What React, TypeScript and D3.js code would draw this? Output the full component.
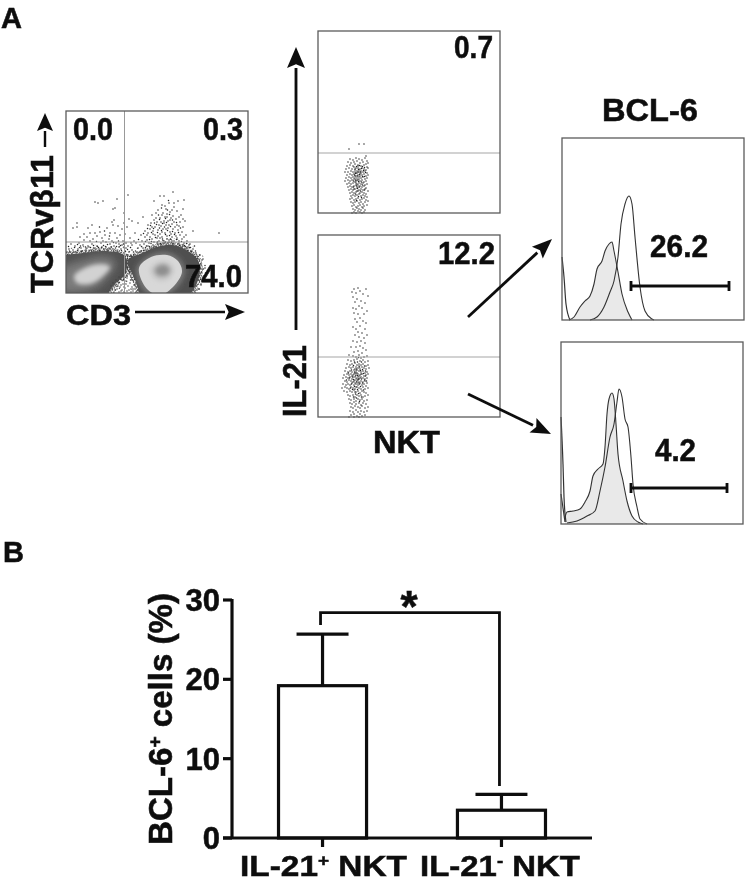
import React from "react";
import * as d3 from "d3";

type P = [number, number];

const barCategories = ["IL-21+ NKT", "IL-21- NKT"];
const barValues = [19.2, 3.5];
const barErrorTops = [25.7, 5.5];
const yTicks = [0, 10, 20, 30];

// flow panel 1: density contours, channel units
const darkLeft: P[] = [[-8,37],[0,38],[17,40],[37,42],[56,39],[61,33],[59,19],[50,10],[44,3],[38,-8],[-8,-8]];
const darkRight: P[] = [[62,33],[74,39],[91,46],[107,48],[122,42],[132,33],[133,16],[124,-2],[118,-8],[80,-8],[69,13]];
const midLeft: P[] = [[-4,24],[18,33],[37,37],[50,31],[42,16],[28,4],[-4,2]];
const lightLeft: P[] = [[8,17],[21,26],[36,29],[44,26],[35,15],[24,9],[11,10]];
const midRight: P[] = [[70,24],[84,38],[101,41],[114,34],[119,20],[110,4],[94,-4],[79,1]];
const lightRight: P[] = [[73,25],[85,36],[101,38],[112,32],[116,21],[107,6],[94,-2],[81,4]];
const coreRight: P[] = [[89,24],[94,28],[100,28],[104,23],[101,18],[94,17],[90,19]];
const ringRight: P[] = [[84,24],[92,31],[102,31],[108,24],[103,14],[93,12],[86,17]];

// irregular stipple tile for the fuzzy rim of the dense populations
const stippleTile: P[] = [[1.5,2],[5,1],[9,3.5],[13,1.5],[17,2.5],[20.5,1],[3,6],[7,7.5],[11,6],[15,5],[19,6.5],[1,10],[5.5,11],[9.5,9.5],[13.5,10.5],[17.5,9.5],[21,11],[3.5,14],[7.5,15],[11.5,13.5],[15.5,14.5],[19.5,14],[1.5,18],[5,19],[9,17.5],[13,18.5],[17,18],[21,19]];

const sparseLeft: P[] = [[29,91],[32,90],[37,92],[51,94],[47,84],[49,85],[58,80],[62,98],[48,73],[46,71],[47,68],[11,70],[7,65],[11,66],[26,68],[22,65],[24,60],[29,60],[14,56],[34,61],[41,65],[44,60],[49,60],[56,64],[54,58],[18,53],[21,56],[27,54],[31,57],[36,55],[39,58],[43,54],[46,52],[51,55],[57,52],[59,59],[61,66],[63,74],[64,55],[66,48],[62,47],[58,46],[53,49],[48,47],[44,49],[40,46],[35,50],[31,47],[26,49],[22,47],[17,48],[13,50],[9,47],[5,49],[3,44],[7,43],[12,44],[16,42],[20,44],[25,43],[29,45],[33,43],[38,44],[42,43],[47,44],[51,42],[55,44],[59,42],[63,41],[66,43],[68,38],[65,37],[62,38],[1,41],[4,41],[10,41],[23,42],[28,42],[36,46],[50,50],[56,48],[60,50],[37,52],[24,52],[15,45],[69,60],[72,70],[68,52],[44,44],[53,46],[19,40],[2,38],[6,39],[41,41],[34,41],[60,45],[65,50],[18,59],[40,51],[8.5,45.5],[14.5,47],[19.5,46],[24.5,45.5],[27.5,47.5],[32.5,45.5],[37.5,47.5],[41.5,48.5],[45.5,46],[50.5,46.5],[54.5,47.5],[57.5,49],[61.5,43.5],[64.5,45.5],[67.5,41],[2.5,46.5],[11.5,48.5],[30.5,51.5],[47.5,50.5],[52.5,52],[43.5,57],[38.5,62],[33.5,66],[52,67],[58,70]];
const bottomGap: P[] = [[44,2],[46,5],[48,1],[49,8],[51,4],[52,11],[53,1],[54,6],[55,14],[56,3],[57,9],[58,1],[59,5],[60,12],[61,2],[62,7],[63,3],[64,10],[65,1],[66,6],[67,2],[68,8],[69,4],[70,1],[71,6],[72,3],[47,10],[50,13],[53,16],[57,17],[61,15],[66,13],[63,19],[59,22],[62,26],[60,30],[64,34],[58,6],[55,2],[52,7],[49,3],[60,9],[65,4],[73,1],[45,7]];
const sparseRight: P[] = [[107,101],[94,97],[98,97],[88,92],[96,88],[103,90],[112,92],[117,84],[108,86],[100,84],[92,83],[86,78],[90,80],[97,80],[104,81],[111,82],[115,78],[119,72],[107,77],[101,76],[94,75],[88,73],[82,68],[85,70],[91,71],[98,72],[104,73],[110,74],[114,71],[117,66],[111,68],[106,69],[100,68],[95,67],[89,66],[84,64],[79,62],[82,60],[87,62],[92,63],[97,64],[102,65],[107,64],[112,63],[116,61],[120,58],[114,58],[109,60],[104,61],[99,60],[94,59],[89,58],[84,56],[79,56],[75,58],[76,52],[81,53],[86,54],[91,55],[96,56],[101,57],[106,56],[111,55],[116,54],[121,52],[124,49],[118,50],[113,52],[108,52],[103,53],[98,52],[93,52],[88,51],[83,50],[78,49],[74,48],[70,50],[72,45],[77,45],[82,47],[87,48],[92,49],[97,50],[102,50],[107,49],[112,49],[117,47],[122,46],[127,44],[130,40],[125,42],[120,44],[115,46],[110,47],[105,47],[100,48],[95,47],[90,46],[85,45],[80,43],[75,42],[71,41],[134,38],[136,33],[133,28],[136,24],[134,20],[138,17],[132,13],[135,9],[130,7],[133,4],[128,3],[125,10],[126,14],[129,18],[131,24],[127,5],[123,2],[136,12],[139,25],[141,20],[146,8],[143,12],[98,70],[102,72],[105,75],[99,76],[95,71],[93,68],[103,68],[108,71],[100,64],[96,61],[105,59],[110,57],[92,57],[87,59],[101,54],[106,52],[94,55],[109,66],[113,67],[90,75],[96,78],[101,79],[106,83],[99,87],[108,90],[117,74],[113,76],[86,66],[81,58],[118,56],[123,48],[153,60],[127,62],[118,93],[77,76],[66,72]];
const denseRight: P[] = [[93.5,73.5],[99.5,74.5],[103.5,78.5],[106.5,73],[100.5,70.5],[96.5,69.5],[104.5,66.5],[98.5,66],[93.5,65],[90.5,68.5],[87.5,64.5],[101.5,62.5],[106.5,61.5],[95.5,62.5],[91.5,60.5],[85.5,60.5],[99.5,58.5],[103.5,57.5],[108.5,58.5],[112.5,60.5],[96.5,54],[89.5,55.5],[83.5,53.5],[104.5,54],[110.5,53.5],[115.5,51.5],[79.5,51.5],[85.5,51.5],[91.5,51],[99.5,51],[105.5,50.5],[120.5,49.5],[75.5,46.5],[80.5,47],[94.5,49.5],[113.5,47.5],[118.5,47.5],[124.5,45.5],[101.5,83],[95.5,85],[110.5,70.5],[88.5,70],[84.5,67.5],[102.5,92.5],[92.5,78],[114.5,65],[81.5,64.5],[77.5,59.5],[72.5,53.5],[128.5,47]];

// flow panels 2 and 3
const nktTopDots: P[] = [[31,64],[41,69],[46,69],[48,57],[32,54],[35,53],[38,55],[41,54],[44,53],[47,55],[49,52],[30,51],[33,50],[36,51],[39,52],[42,50],[45,51],[48,49],[50,50],[29,47],[32,48],[35,47],[37,49],[40,48],[43,47],[46,48],[49,46],[28,44],[31,45],[34,44],[36,46],[38,45],[40,45],[42,44],[44,45],[46,44],[48,43],[50,45],[27,41],[30,41],[33,42],[35,41],[37,43],[39,42],[41,41],[43,42],[45,41],[47,42],[49,40],[29,38],[32,39],[34,38],[36,39],[38,40],[40,38],[42,39],[44,38],[46,39],[48,37],[50,38],[28,35],[31,36],[33,35],[35,36],[37,37],[39,35],[41,36],[43,35],[45,36],[47,34],[49,35],[27,32],[30,33],[32,32],[34,33],[36,34],[38,32],[40,33],[42,32],[44,33],[46,31],[48,32],[29,29],[31,30],[33,29],[35,30],[37,31],[39,29],[41,30],[43,29],[45,30],[47,28],[49,29],[30,26],[32,27],[34,26],[36,27],[38,28],[40,26],[42,27],[44,26],[46,27],[48,25],[31,23],[33,24],[35,23],[37,24],[39,25],[41,23],[43,24],[45,23],[47,24],[50,22],[32,20],[34,21],[36,20],[38,21],[40,22],[42,20],[44,21],[46,20],[48,19],[33,17],[35,18],[37,17],[39,18],[41,19],[43,17],[45,18],[47,17],[49,16],[32,14],[34,15],[36,13],[38,14],[40,15],[42,13],[44,14],[46,15],[48,13],[33,11],[35,10],[37,11],[39,12],[41,10],[43,11],[45,9],[47,11],[50,12],[34,7],[36,8],[38,6],[40,7],[42,8],[44,6],[46,7],[49,8],[35,4],[37,3],[39,5],[41,4],[43,3],[45,5],[47,3],[36,1],[38,0],[40,2],[42,1],[44,0],[46,1],[34,0],[37,41],[39,40],[41,43],[38,37],[40,41],[42,37],[37,35],[39,33],[41,34],[38,30],[40,28],[36,24],[39,22],[37,44],[40,47],[43,40]];
const nktTopCore: P[] = [[38.5,46.5],[41.5,47.5],[44.5,46.5],[46.5,45.5],[43.5,44.5],[40.5,43.5],[37.5,39.5],[42.5,41],[45.5,42.5],[47.5,40.5],[41.5,38.5],[44.5,36.5],[39.5,37],[37.5,33],[40.5,31.5],[43.5,31],[46.5,36.5],[38.5,27],[41.5,26],[35.5,32],[44.5,28],[36.5,38],[39.5,24.5],[42.5,22],[37.5,19],[40.5,16.5],[38.5,12.5],[43.5,15.5],[35.5,26],[46.5,23]];
const nktBottomDots: P[] = [[36,128],[40,129],[48,128],[34,125],[38,124],[42,126],[45,123],[50,121],[35,120],[39,118],[37,115],[43,116],[47,114],[41,111],[35,109],[38,108],[44,109],[49,106],[36,104],[40,103],[46,103],[42,99],[37,98],[39,95],[45,96],[48,94],[35,90],[38,88],[42,91],[47,88],[40,85],[44,84],[37,82],[41,80],[46,79],[49,82],[35,76],[39,75],[43,76],[47,74],[33,70],[38,70],[42,71],[45,69],[48,67],[36,65],[40,66],[44,64],[31,62],[35,61],[38,60],[41,62],[43,59],[46,60],[49,61],[30,57],[33,56],[36,57],[39,58],[42,56],[45,57],[47,55],[50,56],[29,53],[32,52],[34,53],[37,54],[39,52],[41,53],[43,52],[45,53],[48,51],[50,52],[28,49],[31,50],[33,49],[35,50],[37,48],[38,50],[40,49],[42,48],[44,50],[46,49],[48,48],[51,49],[27,46],[30,45],[32,46],[34,45],[36,47],[38,46],[39,44],[41,46],[43,45],[45,46],[47,44],[49,45],[26,42],[29,43],[31,42],[33,43],[35,42],[37,44],[38,42],[40,43],[42,42],[44,43],[46,41],[48,42],[50,43],[25,39],[28,40],[30,39],[32,40],[34,38],[36,40],[38,39],[40,40],[41,38],[43,40],[45,39],[47,38],[49,39],[27,36],[29,35],[31,37],[33,36],[35,35],[37,37],[39,36],[41,35],[43,36],[45,35],[47,36],[49,34],[25,33],[28,32],[30,33],[32,32],[34,34],[36,32],[38,33],[40,32],[42,34],[44,32],[46,33],[48,31],[24,29],[27,30],[29,29],[31,28],[33,30],[35,29],[37,28],[39,30],[41,29],[43,28],[45,30],[47,28],[50,29],[26,26],[29,25],[32,26],[34,25],[36,27],[38,25],[40,26],[42,24],[44,26],[46,25],[48,24],[30,22],[32,21],[35,22],[37,20],[39,22],[41,21],[43,22],[45,20],[47,21],[50,22],[31,18],[33,17],[36,18],[38,16],[40,18],[42,17],[44,18],[46,16],[49,17],[32,14],[34,13],[36,15],[38,13],[41,14],[43,12],[45,14],[48,13],[33,10],[35,9],[37,11],[40,10],[42,9],[44,11],[47,9],[50,10],[32,6],[35,5],[38,7],[40,5],[43,6],[46,5],[49,6],[33,2],[36,3],[39,1],[42,3],[44,1],[47,2],[31,0],[36,0],[41,0],[37,34],[39,38],[41,41],[38,44],[40,37],[42,39],[36,36],[38,30],[40,34],[37,25],[39,47],[41,51],[36,43],[34,41],[43,43]];
const nktBottomCore: P[] = [[35.5,51.5],[38.5,48],[41.5,50],[44.5,47.5],[46.5,51],[36.5,45],[39.5,41.5],[42.5,46.5],[45.5,43.5],[47.5,46],[33.5,47],[34.5,40],[37.5,41],[40.5,38],[43.5,38],[46.5,37],[33.5,33],[35.5,37.5],[38.5,35],[41.5,33],[44.5,34],[36.5,30.5],[39.5,27.5],[42.5,30.5],[45.5,27],[34.5,27.5],[37.5,23],[40.5,23.5],[43.5,20],[38.5,19],[41.5,15.5],[35.5,20],[39.5,55],[43.5,55],[36.5,55],[40.5,59.5],[30.5,44],[31.5,39],[47.5,41],[32.5,29],[28.5,37],[48.5,36]];

// histograms: channel, count
const hist1Filled: P[] = [[7,0],[12,3],[18,13],[23,19],[28,24],[32,36],[35,51],[40,59],[43,69],[47,76],[50,78],[52,69],[56,48],[60,26],[66,8],[70,0]];
const hist1Open: P[] = [[28,0],[35,3],[42,13],[48,28],[52,39],[56,63],[59,96],[63,116],[67,124],[70,116],[73,83],[78,33],[83,9],[90,1],[92,0]];
const hist1Spike: P[] = [[0,63],[2,43],[4,16],[8,0]];
const hist2Filled: P[] = [[4,7],[6,12],[12,13],[19,15],[24,22],[29,33],[32,48],[37,55],[42,60],[44,77],[46,110],[48,125],[51,131],[53,125],[55,100],[57,70],[62,43],[66,23],[71,8],[77,2],[82,0]];
const hist2Open: P[] = [[6,1],[16,3],[26,8],[34,13],[39,33],[44,57],[49,87],[53,100],[56,122],[58,135],[61,127],[64,105],[67,97],[70,67],[72,40],[76,17],[79,5],[86,0]];
const hist2SpikeA: P[] = [[0,107],[2,60],[3,27],[5,2]];
const hist2SpikeB: P[] = [[0,30],[4,2]];

const FONT = "'Liberation Sans', Arial, sans-serif";
const INK = "#111";
const FRAME = "#5a5a5a";
const PANEL = 182;
const channel = d3.scaleLinear().domain([0, 182]).range([0, PANEL]);
const closed = d3.line<P>().x(d => channel(d[0])).y(d => PANEL - channel(d[1])).curve(d3.curveCatmullRomClosed.alpha(0.5));
const hline = d3.line<P>().x(d => channel(d[0])).y(d => PANEL - channel(d[1])).curve(d3.curveMonotoneX);
const boldText = { stroke: INK, strokeWidth: 0.55, paintOrder: "stroke" as const };

function Label({ x, y, w, s = 31, anchor = "start", rot, children }: any) {
  return (
    <text x={rot ? 0 : x} y={rot ? 0 : y} transform={rot ? `translate(${x},${y}) rotate(-90)` : undefined}
      fontFamily={FONT} fontWeight="bold" fontSize={s} fill={INK} textAnchor={anchor} {...boldText}
      textLength={w} lengthAdjust={w ? "spacingAndGlyphs" : undefined}>{children}</text>
  );
}

function Arrow({ x1, y1, x2, y2, len = 21, half = 8, width = 2.4 }: any) {
  const a = Math.atan2(y2 - y1, x2 - x1);
  const bx = x2 - len * Math.cos(a), by = y2 - len * Math.sin(a);
  const nx = -Math.sin(a), ny = Math.cos(a);
  return (
    <g>
      <line x1={x1} y1={y1} x2={bx} y2={by} stroke={INK} strokeWidth={width} />
      <path d={`M${x2},${y2}L${bx + nx * half},${by + ny * half}L${bx + (x2 - bx) * 0.18},${by + (y2 - by) * 0.18}L${bx - nx * half},${by - ny * half}Z`} fill={INK} />
    </g>
  );
}

function Frame({ x, y, w = PANEL, h = PANEL, children }: any) {
  return (
    <g transform={`translate(${x},${y})`}>
      {children}
      <rect width={w} height={h} fill="none" stroke={FRAME} strokeWidth={1.3} />
    </g>
  );
}

function Dots({ pts, fill = "#222", r = 0.72 }: { pts: P[]; fill?: string; r?: number }) {
  return <g fill={fill}>{pts.map((p, i) => <circle key={i} cx={channel(p[0])} cy={PANEL - channel(p[1])} r={r} />)}</g>;
}

function Rim({ shape }: { shape: P[] }) {
  const d = closed(shape) as string;
  return (
    <g fill="none">
      <path d={d} stroke="url(#stipple)" strokeWidth={13} />
      <path d={d} stroke="url(#stippleB)" strokeWidth={6} />
    </g>
  );
}

function Hist({ x, y, filled, open, spikes, bar }: any) {
  const area = d3.area<P>().x(d => channel(d[0])).y0(PANEL).y1(d => PANEL - channel(d[1])).curve(d3.curveMonotoneX);
  return (
    <Frame x={x} y={y}>
      <path d={area(filled) as string} fill="#e9e9e9" />
      <path d={hline(filled) as string} fill="none" stroke="#333" strokeWidth={1.1} />
      <path d={hline(open) as string} fill="none" stroke="#333" strokeWidth={1.1} />
      {spikes.map((s: P[], i: number) => <path key={i} d={hline(s) as string} fill="none" stroke="#333" strokeWidth={1.2} />)}
      <line x1={channel(bar[0])} x2={channel(bar[1])} y1={PANEL - channel(bar[2])} y2={PANEL - channel(bar[2])} stroke={INK} strokeWidth={3.2} />
      {[bar[0], bar[1]].map((b: number, i: number) => (
        <line key={i} x1={channel(b)} x2={channel(b)} y1={PANEL - channel(bar[2]) - 5} y2={PANEL - channel(bar[2]) + 5} stroke={INK} strokeWidth={2.8} />
      ))}
    </Frame>
  );
}

function BarChart() {
  const y = d3.scaleLinear().domain([0, 30]).range([838, 600]);
  const x = d3.scaleBand<string>().domain(barCategories).range([232, 592]).paddingInner(0.508).paddingOuter(0.26);
  const axisW = 3.2;
  const cx = (c: string) => (x(c) as number) + x.bandwidth() / 2;
  const left = cx(barCategories[0]), right = cx(barCategories[1]);
  return (
    <g>
      {barCategories.map((c, i) => (
        <g key={c} stroke={INK} strokeWidth={axisW}>
          <line x1={cx(c)} x2={cx(c)} y1={y(barValues[i])} y2={y(barErrorTops[i])} />
          <line x1={cx(c) - 26} x2={cx(c) + 26} y1={y(barErrorTops[i])} y2={y(barErrorTops[i])} />
          <rect x={x(c)} width={x.bandwidth()} y={y(barValues[i])} height={y(0) - y(barValues[i])} fill="#fff" />
          <line x1={cx(c)} x2={cx(c)} y1={y(0)} y2={847} />
        </g>
      ))}
      <line x1={232} x2={232} y1={y(30) - 1} y2={y(0)} stroke={INK} strokeWidth={axisW} />
      <line x1={223} x2={592} y1={y(0)} y2={y(0)} stroke={INK} strokeWidth={axisW} />
      {yTicks.map(t => (
        <g key={t}>
          <line x1={223} x2={232} y1={y(t)} y2={y(t)} stroke={INK} strokeWidth={axisW} />
          <Label x={220} y={y(t) + 11} s={31} anchor="end">{t}</Label>
        </g>
      ))}
      <path d={`M${left - 2},${y(26.85)}V${y(28.4)}H${right - 2}V${y(6.55)}`} fill="none" stroke={INK} strokeWidth={2.8} />
      <Label x={409} y={622} s={44} anchor="middle">*</Label>
      <text transform="translate(172,845) rotate(-90)" fontFamily={FONT} fontWeight="bold" fontSize={33} fill={INK} {...boldText} textLength={252} lengthAdjust="spacingAndGlyphs">
        BCL-6<tspan dy={-11} fontSize={19}>+</tspan><tspan dy={11}> cells (%)</tspan>
      </text>
      <text x={240} y={876} fontFamily={FONT} fontWeight="bold" fontSize={30} fill={INK} {...boldText} textLength={167} lengthAdjust="spacingAndGlyphs">
        IL-21<tspan dy={-10} fontSize={17}>+</tspan><tspan dy={10}> NKT</tspan>
      </text>
      <text x={420} y={876} fontFamily={FONT} fontWeight="bold" fontSize={30} fill={INK} {...boldText} textLength={160} lengthAdjust="spacingAndGlyphs">
        IL-21<tspan dy={-10} fontSize={17}>-</tspan><tspan dy={10}> NKT</tspan>
      </text>
    </g>
  );
}

export default function App() {
  return (
    <svg width={745} height={879} viewBox="0 0 745 879" style={{ position: "absolute", left: 0, top: 0, background: "#fff" }}>
      <defs>
        <filter id="soft" x="-2%" y="-2%" width="104%" height="104%"><feGaussianBlur stdDeviation="0.45" /></filter>
        <filter id="blob" x="-30%" y="-30%" width="160%" height="160%"><feGaussianBlur stdDeviation="2" /></filter>
        <filter id="blobWide" x="-40%" y="-40%" width="180%" height="180%"><feGaussianBlur stdDeviation="4" /></filter>
        <clipPath id="clipP"><rect width={PANEL} height={PANEL} /></clipPath>
        <pattern id="stipple" patternUnits="userSpaceOnUse" width={22} height={21}>
          {stippleTile.map((p, i) => <circle key={i} cx={p[0]} cy={p[1]} r={0.72} fill="#333" />)}
        </pattern>
        <pattern id="stippleB" patternUnits="userSpaceOnUse" width={11} height={10.5}>
          {stippleTile.map((p, i) => <circle key={i} cx={p[0] / 2} cy={p[1] / 2} r={0.72} fill="#333" />)}
        </pattern>
      </defs>
      <g filter="url(#soft)">
        <Label x={1} y={28} s={29}>A</Label>
        <Label x={3} y={562} s={29}>B</Label>

        <Frame x={66} y={111}>
          <g clipPath="url(#clipP)">
            <Dots pts={sparseLeft} />
            <Dots pts={sparseRight} />
            <Dots pts={denseRight} />
            <Rim shape={darkLeft} />
            <Rim shape={darkRight} />
            <path d={closed(darkLeft) as string} fill="#505050" />
            <path d={closed(darkRight) as string} fill="#505050" />
            <path d={closed(midLeft) as string} fill="#7a7a7a" filter="url(#blobWide)" />
            <path d={closed(lightLeft) as string} fill="#d2d2d2" filter="url(#blob)" />
            <path d={closed(midRight) as string} fill="#747474" filter="url(#blob)" />
            <path d={closed(lightRight) as string} fill="#d8d8d8" />
            <path d={closed(ringRight) as string} fill="#c8c8c8" filter="url(#blob)" />
            <path d={closed(coreRight) as string} fill="#8f8f8f" filter="url(#blob)" />
            <Dots pts={bottomGap} fill="#444" />
          </g>
          <line x1={58.5} x2={58.5} y1={0} y2={PANEL} stroke="#999" strokeWidth={1} />
          <line x1={0} x2={PANEL} y1={131} y2={131} stroke="#999" strokeWidth={1} />
        </Frame>
        <Label x={73} y={140} w={40}>0.0</Label>
        <Label x={203} y={140} w={40}>0.3</Label>
        <Label x={185} y={287} w={57}>74.0</Label>
        <Label x={53} y={293} w={138} s={32} rot>TCRvβ11</Label>
        <Arrow x1={45} y1={147} x2={45} y2={113} len={18} half={8} />
        <Label x={66} y={325} w={65} s={30}>CD3</Label>
        <Arrow x1={135} y1={312} x2={245} y2={312} len={20} half={8} />

        <Frame x={318} y={31}>
          <Dots pts={nktTopDots} />
          <Dots pts={nktTopCore} />
          <line x1={0} x2={PANEL} y1={122} y2={122} stroke="#a5a5a5" strokeWidth={1} />
        </Frame>
        <Frame x={318} y={235}>
          <Dots pts={nktBottomDots} />
          <Dots pts={nktBottomCore} />
          <line x1={0} x2={PANEL} y1={122} y2={122} stroke="#a5a5a5" strokeWidth={1} />
        </Frame>
        <Label x={454} y={58} w={39}>0.7</Label>
        <Label x={438} y={264} w={57}>12.2</Label>
        <Arrow x1={296} y1={330} x2={296} y2={47} len={21} half={9} width={2.8} />
        <Label x={306} y={417} w={72} s={33} rot>IL-21</Label>
        <Label x={373} y={453} w={67} s={31}>NKT</Label>

        <Arrow x1={468} y1={317} x2={552} y2={239} len={20} half={8} width={2.8} />
        <Arrow x1={468} y1={394} x2={551} y2={434} len={20} half={8} width={2.8} />

        <Label x={602} y={121} w={96}>BCL-6</Label>
        <Hist x={562} y={138} filled={hist1Filled} open={hist1Open} spikes={[hist1Spike]} bar={[69, 167, 34]} />
        <Label x={650} y={257} w={58}>26.2</Label>
        <Hist x={561} y={342} filled={hist2Filled} open={hist2Open} spikes={[hist2SpikeA, hist2SpikeB]} bar={[70, 166, 36]} />
        <Label x={655} y={461} w={41}>4.2</Label>

        <BarChart />
      </g>
    </svg>
  );
}
